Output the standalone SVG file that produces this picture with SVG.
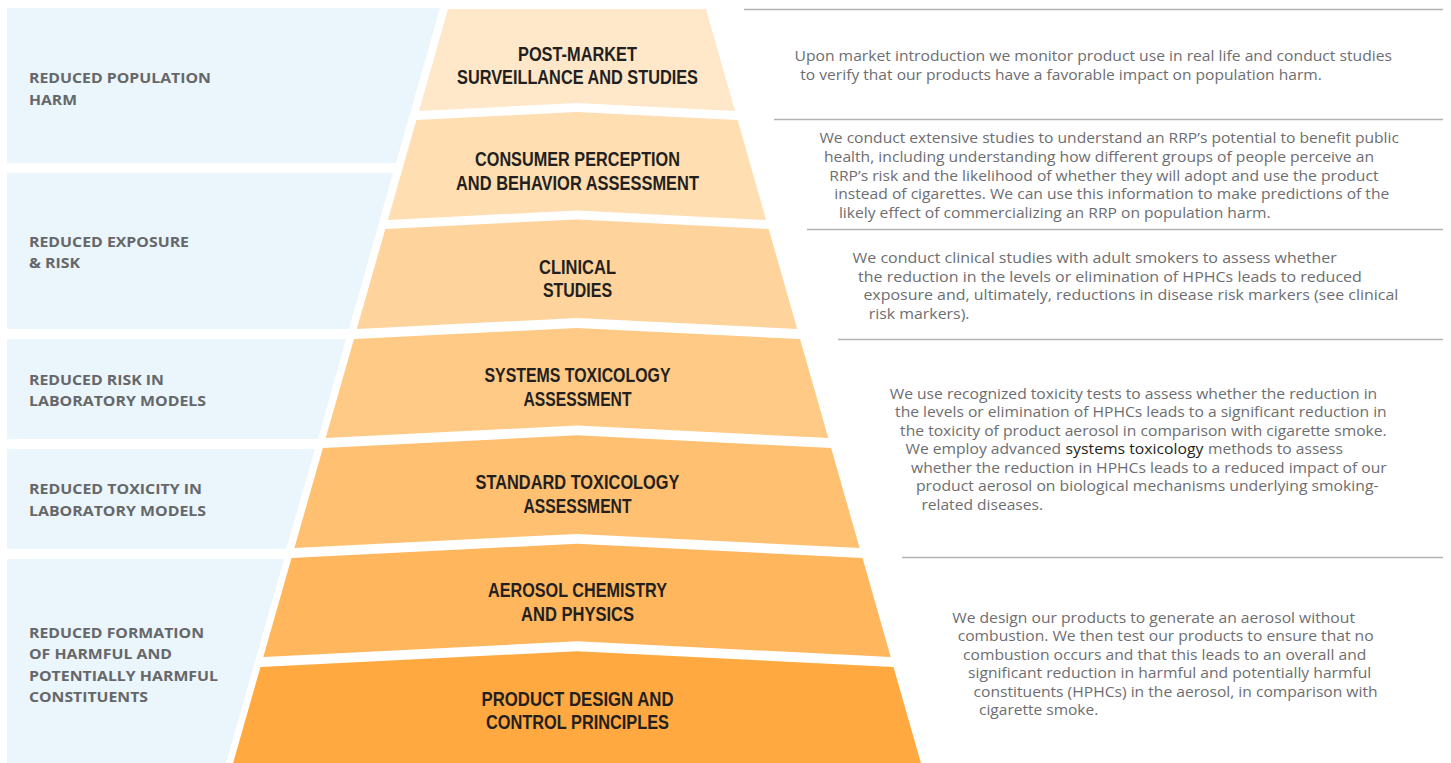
<svg xmlns="http://www.w3.org/2000/svg" width="1451" height="763" viewBox="0 0 1451 763">
<style>
.panel{fill:#EAF5FC}
.lbl{font-family:"Open Sans","Liberation Sans",sans-serif;font-weight:700;font-size:15px;fill:#666769}
.tier{font-family:"Liberation Sans",Arial,sans-serif;font-weight:700;font-size:19.5px;fill:#231f20;text-anchor:middle}
.desc{font-family:"Open Sans","Liberation Sans",sans-serif;font-size:14.5px;fill:#6d6e71}
.dark{fill:#231f20}
.sep{stroke:#b3b3b3;stroke-width:1.3;fill:none}
</style>
<rect width="1451" height="763" fill="#ffffff"/>

<g id="outcome-population-harm">
<polygon class="panel" points="7,8 440,8 396,163 7,163"/>
<text class="lbl" x="29" y="83" textLength="182" lengthAdjust="spacingAndGlyphs">REDUCED POPULATION</text>
<text class="lbl" x="29" y="105" textLength="48" lengthAdjust="spacingAndGlyphs">HARM</text>
</g>
<g id="outcome-exposure-risk">
<polygon class="panel" points="7,173 393,173 349,329 7,329"/>
<text class="lbl" x="29" y="247" textLength="160" lengthAdjust="spacingAndGlyphs">REDUCED EXPOSURE</text>
<text class="lbl" x="29" y="268" textLength="51" lengthAdjust="spacingAndGlyphs">&amp; RISK</text>
</g>
<g id="outcome-risk-lab">
<polygon class="panel" points="7,339 346,339 318,439 7,439"/>
<text class="lbl" x="29" y="385" textLength="135" lengthAdjust="spacingAndGlyphs">REDUCED RISK IN</text>
<text class="lbl" x="29" y="406" textLength="177" lengthAdjust="spacingAndGlyphs">LABORATORY MODELS</text>
</g>
<g id="outcome-toxicity-lab">
<polygon class="panel" points="7,449 315,449 286,549 7,549"/>
<text class="lbl" x="29" y="494" textLength="173" lengthAdjust="spacingAndGlyphs">REDUCED TOXICITY IN</text>
<text class="lbl" x="29" y="516" textLength="177" lengthAdjust="spacingAndGlyphs">LABORATORY MODELS</text>
</g>
<g id="outcome-hphc-formation">
<polygon class="panel" points="7,559 284,559 226,763 7,763"/>
<text class="lbl" x="29" y="638" textLength="175" lengthAdjust="spacingAndGlyphs">REDUCED FORMATION</text>
<text class="lbl" x="29" y="659" textLength="143" lengthAdjust="spacingAndGlyphs">OF HARMFUL AND</text>
<text class="lbl" x="29" y="681" textLength="189" lengthAdjust="spacingAndGlyphs">POTENTIALLY HARMFUL</text>
<text class="lbl" x="29" y="702" textLength="119" lengthAdjust="spacingAndGlyphs">CONSTITUENTS</text>
</g>

<g id="tier-post-market">
<polygon fill="#FFE7C9" points="448,9 706,9 735,111 577,103 419,111"/>
<text class="tier" x="577.5" y="61" textLength="119" lengthAdjust="spacingAndGlyphs">POST-MARKET</text>
<text class="tier" x="577.5" y="84" textLength="241" lengthAdjust="spacingAndGlyphs">SURVEILLANCE AND STUDIES</text>
</g>
<g id="tier-consumer-perception">
<polygon fill="#FFDEB2" points="416.4,120 577,112 737.6,120 766.1,220 577,210.5 387.9,220"/>
<text class="tier" x="577.5" y="166" textLength="205" lengthAdjust="spacingAndGlyphs">CONSUMER PERCEPTION</text>
<text class="tier" x="577.5" y="190" textLength="243" lengthAdjust="spacingAndGlyphs">AND BEHAVIOR ASSESSMENT</text>
</g>
<g id="tier-clinical">
<polygon fill="#FFD49C" points="385.3,229 577,219.4 768.7,229 797.2,329 577,318 356.8,329"/>
<text class="tier" x="577.5" y="274" textLength="77" lengthAdjust="spacingAndGlyphs">CLINICAL</text>
<text class="tier" x="577.5" y="297" textLength="69" lengthAdjust="spacingAndGlyphs">STUDIES</text>
</g>
<g id="tier-systems-tox">
<polygon fill="#FFCA86" points="354,339 577,328 800,339 828.3,438 577,425.5 325.7,438"/>
<text class="tier" x="577.5" y="382" textLength="186" lengthAdjust="spacingAndGlyphs">SYSTEMS TOXICOLOGY</text>
<text class="tier" x="577.5" y="406" textLength="108" lengthAdjust="spacingAndGlyphs">ASSESSMENT</text>
</g>
<g id="tier-standard-tox">
<polygon fill="#FFC071" points="322.9,448 577,435.3 831.1,448 859.6,548 577,533.9 294.4,548"/>
<text class="tier" x="577.5" y="489" textLength="204" lengthAdjust="spacingAndGlyphs">STANDARD TOXICOLOGY</text>
<text class="tier" x="577.5" y="513" textLength="108" lengthAdjust="spacingAndGlyphs">ASSESSMENT</text>
</g>
<g id="tier-aerosol">
<polygon fill="#FFB65D" points="291.5,558 577,543.7 862.5,558 890.7,657 577,641.3 263.3,657"/>
<text class="tier" x="577.5" y="597" textLength="179" lengthAdjust="spacingAndGlyphs">AEROSOL CHEMISTRY</text>
<text class="tier" x="577.5" y="621" textLength="113" lengthAdjust="spacingAndGlyphs">AND PHYSICS</text>
</g>
<g id="tier-product-design">
<polygon fill="#FFA940" points="260.5,667 577,651.2 893.5,667 920.9,763 233.1,763"/>
<text class="tier" x="577.5" y="706" textLength="192" lengthAdjust="spacingAndGlyphs">PRODUCT DESIGN AND</text>
<text class="tier" x="577.5" y="729" textLength="183" lengthAdjust="spacingAndGlyphs">CONTROL PRINCIPLES</text>
</g>

<g id="separators">
<line class="sep" x1="744" y1="9.5" x2="1443" y2="9.5"/>
<line class="sep" x1="774" y1="119.5" x2="1443" y2="119.5"/>
<line class="sep" x1="807" y1="229.5" x2="1443" y2="229.5"/>
<line class="sep" x1="838" y1="339.5" x2="1443" y2="339.5"/>
<line class="sep" x1="902" y1="557.5" x2="1443" y2="557.5"/>
</g>

<g id="desc-post-market">
<text class="desc" x="794.5" y="61" textLength="597.5" lengthAdjust="spacingAndGlyphs">Upon market introduction we monitor product use in real life and conduct studies</text>
<text class="desc" x="800.3" y="80" textLength="521.5" lengthAdjust="spacingAndGlyphs">to verify that our products have a favorable impact on population harm.</text>
</g>
<g id="desc-consumer-perception">
<text class="desc" x="819.4" y="143" textLength="579.6" lengthAdjust="spacingAndGlyphs">We conduct extensive studies to understand an RRP’s potential to benefit public</text>
<text class="desc" x="824" y="161.7" textLength="550" lengthAdjust="spacingAndGlyphs">health, including understanding how different groups of people perceive an</text>
<text class="desc" x="829.3" y="180.5" textLength="549.2" lengthAdjust="spacingAndGlyphs">RRP’s risk and the likelihood of whether they will adopt and use the product</text>
<text class="desc" x="834.3" y="199.3" textLength="555" lengthAdjust="spacingAndGlyphs">instead of cigarettes. We can use this information to make predictions of the</text>
<text class="desc" x="838.9" y="218.2" textLength="431.7" lengthAdjust="spacingAndGlyphs">likely effect of commercializing an RRP on population harm.</text>
</g>
<g id="desc-clinical">
<text class="desc" x="852.5" y="263" textLength="484.3" lengthAdjust="spacingAndGlyphs">We conduct clinical studies with adult smokers to assess whether</text>
<text class="desc" x="858" y="281.6" textLength="503.8" lengthAdjust="spacingAndGlyphs">the reduction in the levels or elimination of HPHCs leads to reduced</text>
<text class="desc" x="863.4" y="300.2" textLength="535" lengthAdjust="spacingAndGlyphs">exposure and, ultimately, reductions in disease risk markers (see clinical</text>
<text class="desc" x="868.8" y="318.8" textLength="100.7" lengthAdjust="spacingAndGlyphs">risk markers).</text>
</g>
<g id="desc-toxicology">
<text class="desc" x="889.7" y="398.5" textLength="487.5" lengthAdjust="spacingAndGlyphs">We use recognized toxicity tests to assess whether the reduction in</text>
<text class="desc" x="895.1" y="417" textLength="491.6" lengthAdjust="spacingAndGlyphs">the levels or elimination of HPHCs leads to a significant reduction in</text>
<text class="desc" x="900.1" y="435.5" textLength="486.6" lengthAdjust="spacingAndGlyphs">the toxicity of product aerosol in comparison with cigarette smoke.</text>
<text class="desc" x="905.5" y="454" textLength="155.5" lengthAdjust="spacingAndGlyphs">We employ advanced</text>
<text class="desc dark" x="1065.6" y="454" textLength="137.9" lengthAdjust="spacingAndGlyphs">systems toxicology</text>
<text class="desc" x="1208" y="454" textLength="135" lengthAdjust="spacingAndGlyphs">methods to assess</text>
<text class="desc" x="911" y="472.5" textLength="475.7" lengthAdjust="spacingAndGlyphs">whether the reduction in HPHCs leads to a reduced impact of our</text>
<text class="desc" x="916" y="491" textLength="462.5" lengthAdjust="spacingAndGlyphs">product aerosol on biological mechanisms underlying smoking-</text>
<text class="desc" x="921.4" y="509.5" textLength="121.6" lengthAdjust="spacingAndGlyphs">related diseases.</text>
</g>
<g id="desc-product-design">
<text class="desc" x="952.2" y="622.5" textLength="402.8" lengthAdjust="spacingAndGlyphs">We design our products to generate an aerosol without</text>
<text class="desc" x="957.7" y="641" textLength="415.9" lengthAdjust="spacingAndGlyphs">combustion. We then test our products to ensure that no</text>
<text class="desc" x="963" y="659.5" textLength="403.3" lengthAdjust="spacingAndGlyphs">combustion occurs and that this leads to an overall and</text>
<text class="desc" x="968" y="678" textLength="403.3" lengthAdjust="spacingAndGlyphs">significant reduction in harmful and potentially harmful</text>
<text class="desc" x="973.6" y="696.5" textLength="404" lengthAdjust="spacingAndGlyphs">constituents (HPHCs) in the aerosol, in comparison with</text>
<text class="desc" x="979" y="715" textLength="119.3" lengthAdjust="spacingAndGlyphs">cigarette smoke.</text>
</g>
</svg>
